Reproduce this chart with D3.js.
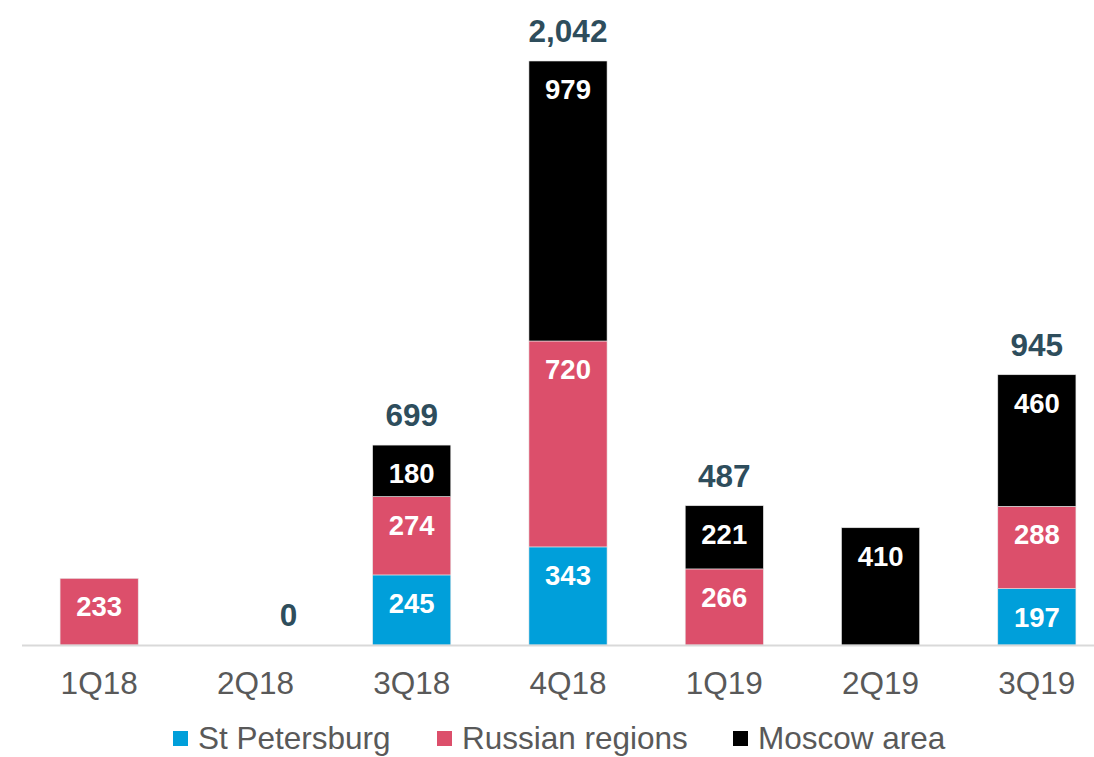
<!DOCTYPE html>
<html><head><meta charset="utf-8">
<script src="https://cdn.jsdelivr.net/npm/d3@7/dist/d3.min.js"></script>
<style>body{margin:0;background:#fff;}svg{display:block;font-family:"Liberation Sans",Arial,sans-serif;}</style>
</head><body>
<script>
const categories = ["1Q18","2Q18","3Q18","4Q18","1Q19","2Q19","3Q19"];
const seriesNames = ["St Petersburg","Russian regions","Moscow area"];
const stPetersburg = [0,0,245,343,0,0,197];
const russianRegions = [233,0,274,720,266,0,288];
const moscowArea = [0,0,180,979,221,410,460];
const totalLabels = ["","0","699","2,042","487","","945"];
const colors = ["#009fda","#dc4f6b","#000000"];

const W=1094,H=757;
const svg=d3.select("body").append("svg").attr("width",W).attr("height",H);
const x=d3.scaleBand().domain(categories).range([21,1115]).paddingInner(0.5).paddingOuter(0.25);
const y=d3.scaleLinear().domain([0,2042]).range([645,61]);

const rows=categories.map((c,i)=>({cat:c,"St Petersburg":stPetersburg[i],"Russian regions":russianRegions[i],"Moscow area":moscowArea[i],total:totalLabels[i]}));
const stack=d3.stack().keys(seriesNames)(rows);

stack.forEach((layer,li)=>{
  const g=svg.append("g");
  layer.forEach(d=>{
    const v=d[1]-d[0];
    if(v<=0) return;
    g.append("rect").attr("x",x(d.data.cat)).attr("width",x.bandwidth())
      .attr("y",y(d[1])).attr("height",y(d[0])-y(d[1]))
      .attr("fill",colors[li]).attr("stroke","#e6e6e6").attr("stroke-width",0.6);
    g.append("text").attr("x",x(d.data.cat)+x.bandwidth()/2)
      .attr("y",y(d[1])+38).attr("text-anchor","middle")
      .attr("fill","#fff").attr("font-weight","bold").attr("font-size",27.5).text(v);
  });
});

// axis line
svg.append("line").attr("x1",22).attr("x2",W).attr("y1",645.5).attr("y2",645.5)
  .attr("stroke","#d9d9d9").attr("stroke-width",2);

// category labels
svg.selectAll(".cat").data(categories).enter().append("text")
  .attr("x",d=>x(d)+x.bandwidth()/2).attr("y",694).attr("text-anchor","middle")
  .attr("fill","#595959").attr("font-size",31.5).text(d=>d);

// totals
rows.forEach((r,i)=>{
  if(!r.total) return;
  const t=stPetersburg[i]+russianRegions[i]+moscowArea[i];
  const dx = t===0 ? 33 : 0;
  svg.append("text").attr("x",x(r.cat)+x.bandwidth()/2+dx).attr("y",y(t)-19)
    .attr("text-anchor","middle").attr("fill","#2e4d5c").attr("font-weight","bold")
    .attr("font-size",31.5).text(r.total);
});

// legend
const legX=[173,437,733];
seriesNames.forEach((n,i)=>{
  svg.append("rect").attr("x",legX[i]).attr("y",731).attr("width",15).attr("height",15).attr("fill",colors[i]);
  svg.append("text").attr("x",legX[i]+25).attr("y",749).attr("fill","#595959").attr("font-size",31.5).text(n);
});
</script>
</body></html>
